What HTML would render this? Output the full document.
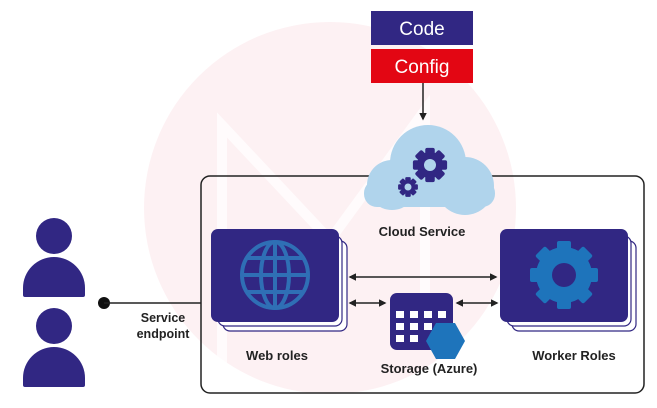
<!DOCTYPE html>
<html><head><style>
body{margin:0;width:657px;height:403px;background:#fff;overflow:hidden;font-family:"Liberation Sans",sans-serif}
</style></head><body>
<svg width="657" height="403" viewBox="0 0 657 403" xmlns="http://www.w3.org/2000/svg" font-family="Liberation Sans, sans-serif">
<defs>
<marker id="a" markerWidth="5" markerHeight="5" refX="4" refY="2.5" orient="auto-start-reverse"><path d="M0,0 L5,2.5 L0,5z" fill="#222"/></marker>
<g id="gt"><rect x="-2.5" y="-9" width="5" height="18" rx="1"/></g>
</defs>
<circle cx="330" cy="208" r="186" fill="#fdf1f3"/>
<path d="M222 370 V125 L330 240 L425 110 V330" fill="none" stroke="#fff" stroke-width="10" opacity="0.7"/>
<rect x="201" y="176" width="443" height="217" rx="9" fill="none" stroke="#222" stroke-width="1.5"/>
<rect x="371" y="11" width="102" height="34" fill="#312783"/>
<text x="422" y="35" font-size="19" fill="#fff" text-anchor="middle">Code</text>
<rect x="371" y="49" width="102" height="34" fill="#e30613"/>
<text x="422" y="73" font-size="19" fill="#fff" text-anchor="middle">Config</text>
<line x1="423" y1="83" x2="423" y2="119" stroke="#222" stroke-width="1.5" marker-end="url(#a)"/>
<g fill="#b0d4ec">
<circle cx="392" cy="185" r="25"/><circle cx="428" cy="163" r="38"/><circle cx="465" cy="186" r="29"/>
<rect x="364" y="180" width="131" height="27" rx="13"/>
</g>
<g fill="#312783">
<circle cx="430" cy="165" r="13"/>
<use href="#gt" transform="translate(430 165) scale(1.9)"/><use href="#gt" transform="translate(430 165) rotate(45) scale(1.9)"/><use href="#gt" transform="translate(430 165) rotate(90) scale(1.9)"/><use href="#gt" transform="translate(430 165) rotate(135) scale(1.9)"/>
<circle cx="408" cy="187" r="7"/>
<use href="#gt" transform="translate(408 187) scale(1.1)"/><use href="#gt" transform="translate(408 187) rotate(45) scale(1.1)"/><use href="#gt" transform="translate(408 187) rotate(90) scale(1.1)"/><use href="#gt" transform="translate(408 187) rotate(135) scale(1.1)"/>
</g>
<g fill="#b0d4ec"><circle cx="430" cy="165" r="6"/><circle cx="408" cy="187" r="3.5"/></g>
<text x="422" y="236" font-size="13" font-weight="bold" fill="#222" text-anchor="middle">Cloud Service</text>
<g fill="#fff" stroke="#312783" stroke-width="1.2">
<rect x="223" y="241" width="124" height="90" rx="7"/><rect x="218" y="236" width="124" height="90" rx="7"/>
<rect x="512" y="241" width="124" height="90" rx="7"/><rect x="507" y="236" width="124" height="90" rx="7"/>
</g>
<rect x="211" y="229" width="128" height="93" rx="7" fill="#312783"/>
<rect x="500" y="229" width="128" height="93" rx="7" fill="#312783"/>
<g fill="none" stroke="#2f6fb5" stroke-width="4">
<circle cx="275" cy="275" r="33"/><ellipse cx="275" cy="275" rx="14" ry="33"/>
<line x1="275" y1="242" x2="275" y2="308"/><line x1="242" y1="275" x2="308" y2="275"/>
<line x1="248" y1="258" x2="302" y2="258"/><line x1="248" y1="292" x2="302" y2="292"/>
</g>
<g fill="#1e74bb">
<circle cx="564" cy="275" r="28"/>
<g id="t"><rect x="557" y="241" width="14" height="14" rx="2"/></g>
<use href="#t" transform="rotate(45 564 275)"/><use href="#t" transform="rotate(90 564 275)"/><use href="#t" transform="rotate(135 564 275)"/>
<use href="#t" transform="rotate(180 564 275)"/><use href="#t" transform="rotate(225 564 275)"/><use href="#t" transform="rotate(270 564 275)"/><use href="#t" transform="rotate(315 564 275)"/>
</g>
<circle cx="564" cy="275" r="12" fill="#312783"/>
<g stroke="#222" stroke-width="1.5" marker-start="url(#a)" marker-end="url(#a)">
<line x1="350" y1="277" x2="496" y2="277"/>
<line x1="350" y1="303" x2="385" y2="303"/>
<line x1="457" y1="303" x2="497" y2="303"/>
</g>
<rect x="390" y="293" width="63" height="57" rx="7" fill="#312783"/>
<g fill="#fff">
<rect x="396" y="311" width="8" height="7"/><rect x="410" y="311" width="8" height="7"/><rect x="424" y="311" width="8" height="7"/><rect x="438" y="311" width="8" height="7"/>
<rect x="396" y="323" width="8" height="7"/><rect x="410" y="323" width="8" height="7"/><rect x="424" y="323" width="8" height="7"/>
<rect x="396" y="335" width="8" height="7"/><rect x="410" y="335" width="8" height="7"/>
</g>
<polygon points="436,323 455,323 465,341 455,359 436,359 426,341" fill="#1e74bb"/>
<text x="277" y="360" font-size="13" font-weight="bold" fill="#222" text-anchor="middle">Web roles</text>
<text x="429" y="373" font-size="13" font-weight="bold" fill="#222" text-anchor="middle">Storage (Azure)</text>
<text x="574" y="360" font-size="13" font-weight="bold" fill="#222" text-anchor="middle">Worker Roles</text>
<g fill="#312783">
<circle cx="54" cy="236" r="18"/><path d="M23 295 V288 A31 31 0 0 1 85 288 V295 Q85 297 83 297 H25 Q23 297 23 295z"/>
<circle cx="54" cy="326" r="18"/><path d="M23 385 V378 A31 31 0 0 1 85 378 V385 Q85 387 83 387 H25 Q23 387 23 385z"/>
</g>
<circle cx="104" cy="303" r="6" fill="#111"/>
<line x1="104" y1="303" x2="201" y2="303" stroke="#222" stroke-width="1.5"/>
<text x="163" y="322" font-size="12.5" font-weight="bold" fill="#222" text-anchor="middle">Service</text>
<text x="163" y="338" font-size="12.5" font-weight="bold" fill="#222" text-anchor="middle">endpoint</text>
</svg>
</body></html>
